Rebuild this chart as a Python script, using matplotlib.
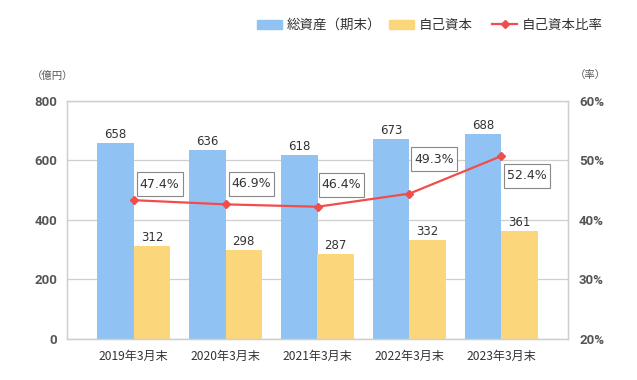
import matplotlib
matplotlib.use("Agg")
import matplotlib.pyplot as plt
import numpy as np
from matplotlib.path import Path
from matplotlib.patches import Patch
from matplotlib.lines import Line2D

plt.rcParams['font.family'] = ['Noto Sans CJK JP', 'DejaVu Sans']

categories = ["2019年3月末", "2020年3月末", "2021年3月末", "2022年3月末", "2023年3月末"]
total_assets = [658, 636, 618, 673, 688]
equity = [312, 298, 287, 332, 361]
ratio_labels = ["47.4%", "46.9%", "46.4%", "49.3%", "52.4%"]
# line positions as drawn in the reference (right axis, %)
ratio_line = [43.3, 42.6, 42.2, 44.4, 50.7]
left_ticks = [0, 200, 400, 600, 800]
right_ticks = [20, 30, 40, 50, 60]
legend_labels = ["総資産（期末）", "自己資本", "自己資本比率"]

blue = "#90C3F4"
yellow = "#FCD67A"
red = "#F24C4C"
grid_c = "#cfcfcf"
txt_c = "#333333"
tick_c = "#555555"


def rect_box(x0, y0, width, height, mutation_size):
    px, py = 3.0, 5.5
    verts = [(x0 - px, y0 - py), (x0 + width + px, y0 - py),
             (x0 + width + px, y0 + height + py), (x0 - px, y0 + height + py),
             (x0 - px, y0 - py)]
    codes = [Path.MOVETO, Path.LINETO, Path.LINETO, Path.LINETO, Path.CLOSEPOLY]
    return Path(verts, codes)


fig = plt.figure(figsize=(6.37, 3.80), dpi=100)
ax = fig.add_axes([67/637, 41/380, 501/637, 238.3/380])
ax2 = ax.twinx()

x = np.arange(len(categories))
w = 0.395
ax.bar(x - w/2, total_assets, w, color=blue, zorder=2)
ax.bar(x + w/2, equity, w, color=yellow, zorder=2)

for xi, v in zip(x, total_assets):
    ax.annotate(str(v), (xi - w/2, v), xytext=(0, 2), textcoords="offset pixels",
                ha="center", va="bottom", fontsize=8.5, color=txt_c, family="DejaVu Sans")
for xi, v in zip(x, equity):
    ax.annotate(str(v), (xi + w/2, v), xytext=(0, 2), textcoords="offset pixels",
                ha="center", va="bottom", fontsize=8.5, color=txt_c, family="DejaVu Sans")

ax.set_xlim(-0.727, len(categories) - 1 + 0.727)
ax.set_ylim(0, 800)
ax.set_yticks(left_ticks)
ax.set_yticklabels([str(t) for t in left_ticks])
ax.set_xticks(x)
ax.set_xticklabels(categories, fontsize=8.7, color=txt_c)
ax.grid(axis="y", color=grid_c, linewidth=0.9, zorder=0)
ax.set_axisbelow(True)
ax.tick_params(axis="both", length=0)
ax.tick_params(axis="y", labelsize=9.5, labelcolor=tick_c, pad=7)
ax.tick_params(axis="x", pad=8)
for lab in ax.get_yticklabels():
    lab.set_fontweight("bold")
    lab.set_family(["Roboto", "DejaVu Sans"])
for s in list(ax.spines.values()) + list(ax2.spines.values()):
    s.set_color(grid_c)
    s.set_linewidth(0.9)

ax2.plot(x, ratio_line, color=red, linewidth=1.6, marker="D", markersize=4.5, zorder=5)
ax2.set_ylim(20, 60)
ax2.set_yticks(right_ticks)
ax2.set_yticklabels([f"{t}%" for t in right_ticks])
ax2.tick_params(axis="y", length=0, labelsize=9.5, labelcolor=tick_c, pad=8)
for lab in ax2.get_yticklabels():
    lab.set_fontweight("bold")
    lab.set_family(["Roboto", "DejaVu Sans"])

label_offsets = [(6, 16), (6, 20.5), (4, 22), (5, 34.5), (6, -19.7)]
for xi, yv, lab, (dx, dy) in zip(x, ratio_line, ratio_labels, label_offsets):
    ax2.annotate(lab, (xi, yv), xytext=(dx, dy), textcoords="offset pixels",
                 ha="left", va="center", fontsize=9, color=txt_c, family="DejaVu Sans",
                 bbox=dict(boxstyle=rect_box, fc="white", ec="#888888", lw=0.8),
                 zorder=6)

fig.text(32/637, 1 - 76/380, "（億円）", fontsize=7.5, color=tick_c, ha="left", va="center")
fig.text(575/637, 1 - 75/380, "（率）", fontsize=7.5, color=tick_c, ha="left", va="center")

handles = [Patch(color=blue), Patch(color=yellow),
           Line2D([], [], color=red, linewidth=1.6, marker="D", markersize=4)]
legend_x = [257, 389, 492]
for h, lab, lx in zip(handles, legend_labels, legend_x):
    fig.legend([h], [lab], loc="center left", bbox_to_anchor=(lx/637, 1 - 25/380),
               frameon=False, fontsize=9.7, handlelength=1.87, handleheight=0.63,
               handletextpad=0.35, labelcolor=txt_c, borderpad=0, borderaxespad=0)

fig.savefig("out.png", dpi=100)
